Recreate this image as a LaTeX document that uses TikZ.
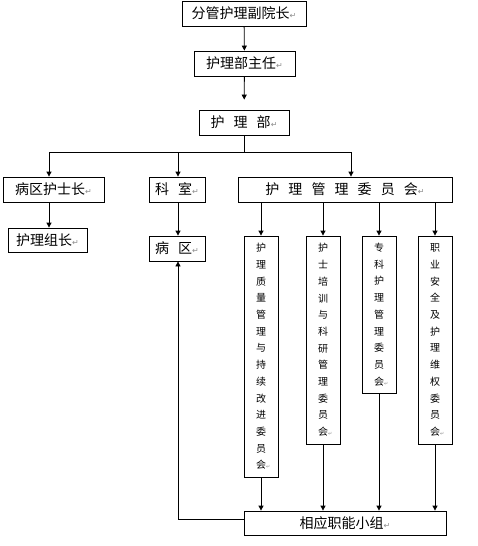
\documentclass[tikz,border=0pt]{standalone}
\usepackage{fontspec}
\setmainfont{Noto Sans CJK SC}
\newfontfamily\symfont{DejaVu Sans}
\usetikzlibrary{arrows.meta, positioning}
\definecolor{markGray}{HTML}{8C8C8C}
\newcommand{\retmark}{{\symfont\color{markGray}\fontsize{8}{8}\selectfont ↵}}
\newcommand{\colmark}{\rlap{{\symfont\color{markGray}\fontsize{5}{5}\selectfont ↵}}}
\newcommand{\cgap}{\hspace{0.65em}}

\begin{document}
\begin{tikzpicture}[x=1pt, y=-1pt,
    orgbox/.style={draw, line width=0.8pt, inner sep=0pt, minimum height=25pt,
      font=\fontsize{14}{16}\selectfont},
    colbox/.style={draw, line width=0.8pt, inner sep=0pt, minimum width=34pt,
      align=center, font=\fontsize{10}{16.7}\selectfont},
    link/.style={line width=0.8pt, -{Triangle[length=5pt, width=5pt]}},
    plain/.style={line width=0.8pt}]
  \useasboundingbox (0,0) rectangle (478,546);

  % Top of the chain
  \node[orgbox, minimum width=124pt] (vp) at (244,13.5) {分管护理副院长\retmark};
  \node[orgbox, minimum width=101pt] (director) at (244.5,63.5) {护理部主任\retmark};
  \node[orgbox, minimum width=90pt] (dept) at (244,122.5) {护\cgap 理\cgap 部\retmark};

  % Second level
  \node[orgbox, minimum width=101pt] (headnurse) at (53.5,189.5) {病区护士长\retmark};
  \node[orgbox, minimum width=56pt] (office) at (177,189.5) {科\cgap 室\retmark};
  \node[orgbox, minimum width=214pt] (committee) at (345,189.5)
    {护\cgap 理\cgap 管\cgap 理\cgap 委\cgap 员\cgap 会\retmark};

  % Third level
  \node[orgbox, minimum width=79pt, minimum height=24pt] (leader) at (47.5,240) {护理组长\retmark};
  \node[orgbox, minimum width=56pt] (ward) at (177,248.5) {病\cgap 区\retmark};

  % Committee columns
  \node[colbox, minimum height=241pt] (quality) at (261,356.5)
    {护\\理\\质\\量\\管\\理\\与\\持\\续\\改\\进\\委\\员\\会\colmark};
  \node[colbox, minimum height=208pt] (training) at (323,340)
    {护\\士\\培\\训\\与\\科\\研\\管\\理\\委\\员\\会\colmark};
  \node[colbox, minimum height=157pt] (specialty) at (379,314.5)
    {专\\科\\护\\理\\管\\理\\委\\员\\会\colmark};
  \node[colbox, minimum height=208pt] (safety) at (435,340)
    {职\\业\\安\\全\\及\\护\\理\\维\\权\\委\\员\\会\colmark};

  % Bottom group
  \node[orgbox, minimum width=202pt, minimum height=24pt] (team) at (345,523) {相应职能小组\retmark};

  % Connectors
  \draw[link] (vp) -- (director);
  \draw[link, shorten >=10pt] (director) -- (dept);
  \coordinate (split) at (244,152);
  \draw[plain] (dept) -- (split);
  \draw[link] (split) -| ([xshift=-4.5pt]headnurse.north);
  \draw[link] (split) -| ([xshift=1pt]office.north);
  \draw[link] (split) -| ([xshift=6pt]committee.north);
  \draw[link] ([xshift=-4.5pt]headnurse.south) -- ([xshift=-4.5pt]headnurse.south |- leader.north);
  \draw[link] ([xshift=1pt]office.south) -- ([xshift=1pt]ward.north);
  \foreach \col in {quality, training, specialty, safety} {
    \draw[link] (\col.north |- committee.south) -- (\col.north);
    \draw[link] (\col.south) -- (\col.south |- team.north);
  }
  \draw[link] ([yshift=4pt]team.west) -| ([xshift=1pt]ward.south);
\end{tikzpicture}
\end{document}
